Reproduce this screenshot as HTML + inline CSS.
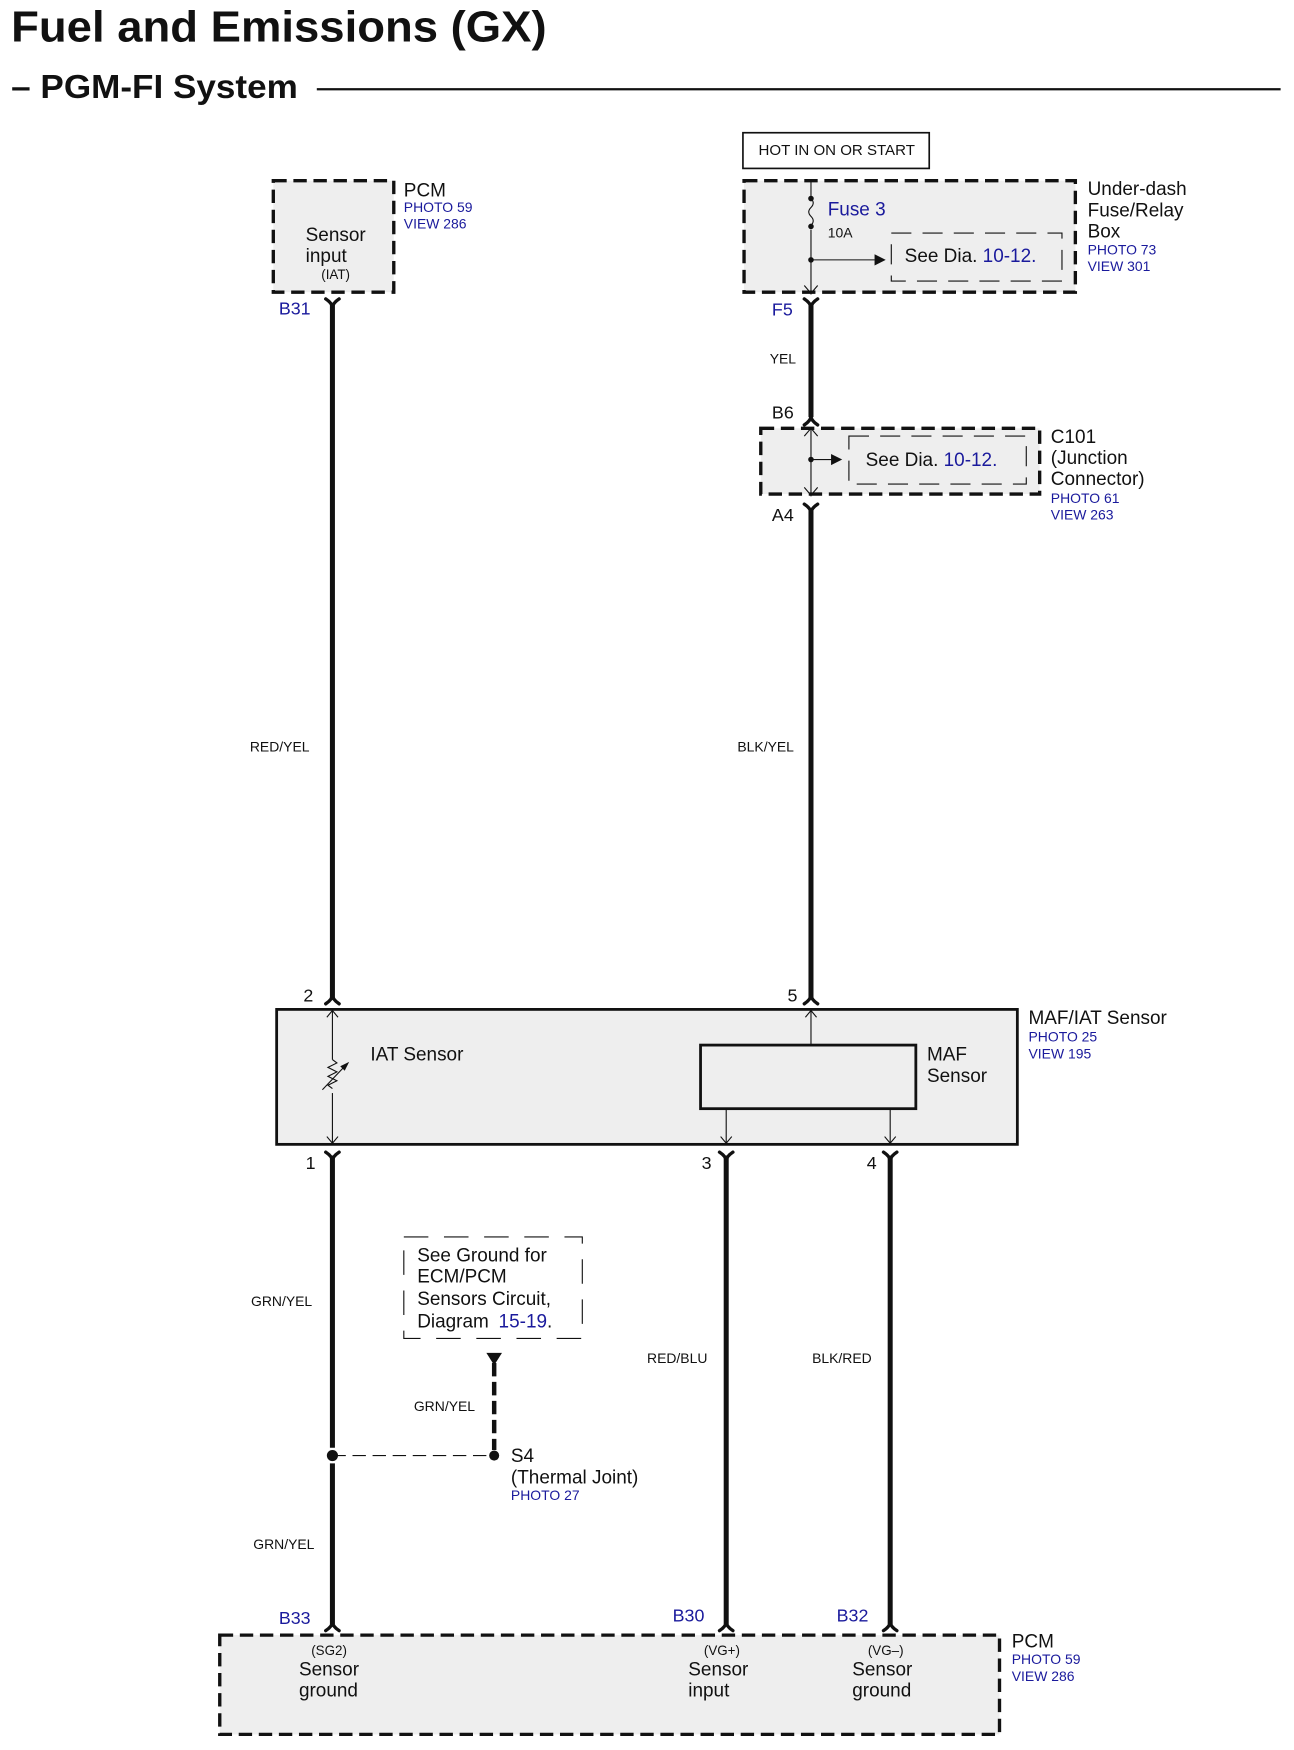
<!DOCTYPE html>
<html><head><meta charset="utf-8">
<style>
html,body{margin:0;padding:0;background:#fff;}
svg{display:block;}
text{font-family:"Liberation Sans",Arial,sans-serif;fill:#111;}
.b{fill:#1a1a9c;}
</style></head>
<body>
<svg width="1294" height="1750" viewBox="0 0 1160 1569" preserveAspectRatio="none" xmlns="http://www.w3.org/2000/svg">
<rect width="1160" height="1569" fill="#fff"/>
<text x="10" y="37" font-size="39" font-weight="bold" textLength="480" lengthAdjust="spacingAndGlyphs">Fuel and Emissions (GX)</text>
<text x="10" y="88" font-size="30" font-weight="bold" textLength="257" lengthAdjust="spacingAndGlyphs">– PGM-FI System</text>
<line x1="284" y1="80" x2="1148" y2="80" stroke="#111" stroke-width="2"/>

<!-- PCM top box -->
<rect x="245" y="162" width="108" height="100" fill="#eee" stroke="#111" stroke-width="3" stroke-dasharray="12,6"/>
<text x="274" y="216" font-size="17">Sensor</text>
<text x="274" y="235" font-size="17">input</text>
<text x="288" y="250" font-size="12">(IAT)</text>
<text x="362" y="176" font-size="17">PCM</text>
<text x="362" y="190" font-size="12.5" class="b">PHOTO 59</text>
<text x="362" y="205" font-size="12.5" class="b">VIEW 286</text>
<text x="250" y="282" font-size="16" class="b">B31</text>

<!-- HOT box -->
<rect x="666" y="119" width="167" height="32" fill="#fff" stroke="#111" stroke-width="1.5"/>
<text x="680" y="139" font-size="13.5">HOT IN ON OR START</text>

<!-- Fuse box -->
<rect x="667" y="162" width="297" height="100" fill="#eee" stroke="#111" stroke-width="3" stroke-dasharray="12,6"/>
<line x1="727" y1="162" x2="727" y2="264" stroke="#111" stroke-width="1"/>
<rect x="722" y="176" width="10" height="30" fill="#eee"/>
<path d="M727,178 q4,4 0,8 q-4,4 0,8 q4,4 0,8" fill="none" stroke="#111" stroke-width="1"/>
<circle cx="727" cy="178" r="2.5" fill="#111"/><circle cx="727" cy="203" r="2.5" fill="#111"/><circle cx="727" cy="233" r="2.5" fill="#111"/>
<line x1="727" y1="233" x2="784" y2="233" stroke="#111" stroke-width="1"/>
<path d="M784,228 L794,233 L784,238 Z" fill="#111"/>
<path d="M721,256 L727,263 L733,256" fill="none" stroke="#111" stroke-width="1"/>
<rect x="799" y="209" width="153" height="43" fill="#eee" stroke="#111" stroke-width="1" stroke-dasharray="18,10"/>
<text x="811" y="235" font-size="17">See Dia. <tspan class="b">10-12.</tspan></text>
<text x="742" y="193" font-size="17" class="b">Fuse 3</text>
<text x="742" y="213" font-size="12.5">10A</text>
<text x="975" y="175" font-size="17">Under-dash</text>
<text x="975" y="194" font-size="17">Fuse/Relay</text>
<text x="975" y="213" font-size="17">Box</text>
<text x="975" y="228" font-size="12.5" class="b">PHOTO 73</text>
<text x="975" y="243" font-size="12.5" class="b">VIEW 301</text>
<text x="692" y="283" font-size="16" class="b">F5</text>
<text x="690" y="326" font-size="12.5">YEL</text>

<!-- C101 -->
<text x="692" y="375" font-size="16">B6</text>
<rect x="682" y="384" width="250" height="59" fill="#eee" stroke="#111" stroke-width="3" stroke-dasharray="12,6"/>
<line x1="727" y1="384" x2="727" y2="445" stroke="#111" stroke-width="1"/>
<path d="M721,391 L727,384 L733,391 M721,437 L727,444 L733,437" fill="none" stroke="#111" stroke-width="1"/>
<circle cx="727" cy="412" r="2.5" fill="#111"/>
<line x1="727" y1="412" x2="746" y2="412" stroke="#111" stroke-width="1"/>
<path d="M745,407 L755,412 L745,417 Z" fill="#111"/>
<rect x="761" y="391" width="159" height="43" fill="#eee" stroke="#111" stroke-width="1" stroke-dasharray="18,10"/>
<text x="776" y="418" font-size="17">See Dia. <tspan class="b">10-12.</tspan></text>
<text x="942" y="397" font-size="17">C101</text>
<text x="942" y="416" font-size="17">(Junction</text>
<text x="942" y="435" font-size="17">Connector)</text>
<text x="942" y="451" font-size="12.5" class="b">PHOTO 61</text>
<text x="942" y="466" font-size="12.5" class="b">VIEW 263</text>
<text x="692" y="467" font-size="16">A4</text>

<!-- thick wires -->
<g stroke="#111" stroke-width="4.5" fill="none">
<line x1="298" y1="272" x2="298" y2="895"/>
<line x1="727" y1="272" x2="727" y2="374"/>
<line x1="727" y1="456" x2="727" y2="895"/>
<line x1="298" y1="1036" x2="298" y2="1298"/>
<line x1="298" y1="1312" x2="298" y2="1456"/>
<line x1="651" y1="1036" x2="651" y2="1456"/>
<line x1="798" y1="1036" x2="798" y2="1456"/>
</g>
<g stroke="#111" stroke-width="3" fill="none" stroke-linecap="round">
<path d="M292,268 Q298,272 298,276 Q298,272 304,268"/>
<path d="M721,268 Q727,272 727,276 Q727,272 733,268"/>
<path d="M721,452 Q727,456 727,460 Q727,456 733,452"/>
<path d="M292,1033 Q298,1037 298,1041 Q298,1037 304,1033"/>
<path d="M645,1033 Q651,1037 651,1041 Q651,1037 657,1033"/>
<path d="M792,1033 Q798,1037 798,1041 Q798,1037 804,1033"/>
<path d="M292,900 Q298,896 298,892 Q298,896 304,900"/>
<path d="M721,900 Q727,896 727,892 Q727,896 733,900"/>
<path d="M721,381 Q727,377 727,373 Q727,377 733,381"/>
<path d="M292,1462 Q298,1458 298,1454 Q298,1458 304,1462"/>
<path d="M645,1462 Q651,1458 651,1454 Q651,1458 657,1462"/>
<path d="M792,1462 Q798,1458 798,1454 Q798,1458 804,1462"/>
</g>
<text x="224" y="674" font-size="12.5">RED/YEL</text>
<text x="661" y="674" font-size="12.5">BLK/YEL</text>

<!-- MAF/IAT -->
<text x="272" y="898" font-size="16">2</text>
<text x="706" y="898" font-size="16">5</text>
<rect x="248" y="905" width="664" height="121" fill="#eee" stroke="#111" stroke-width="2.5"/>
<line x1="298" y1="906" x2="298" y2="1025" stroke="#111" stroke-width="1"/>
<path d="M293,912 L298,906 L303,912 M293,1019 L298,1025 L303,1019" fill="none" stroke="#111" stroke-width="1"/>
<rect x="292" y="950" width="12" height="30" fill="#eee"/>
<path d="M298,950 l4,3 l-8,4 l8,4 l-8,4 l8,4 l-8,4 l4,3" fill="none" stroke="#111" stroke-width="1"/>
<line x1="289" y1="977" x2="310" y2="955" stroke="#111" stroke-width="1"/>
<path d="M313,952 L305,956 L309,960 Z" fill="#111"/>
<text x="332" y="951" font-size="17">IAT Sensor</text>
<rect x="628" y="937" width="193" height="57" fill="#eee" stroke="#111" stroke-width="2.5"/>
<line x1="727" y1="906" x2="727" y2="937" stroke="#111" stroke-width="1"/>
<path d="M722,912 L727,906 L732,912" fill="none" stroke="#111" stroke-width="1"/>
<line x1="651" y1="994" x2="651" y2="1025" stroke="#111" stroke-width="1"/>
<line x1="798" y1="994" x2="798" y2="1025" stroke="#111" stroke-width="1"/>
<path d="M646,1019 L651,1025 L656,1019 M793,1019 L798,1025 L803,1019" fill="none" stroke="#111" stroke-width="1"/>
<text x="831" y="951" font-size="17">MAF</text>
<text x="831" y="970" font-size="17">Sensor</text>
<text x="922" y="918" font-size="17">MAF/IAT Sensor</text>
<text x="922" y="934" font-size="12.5" class="b">PHOTO 25</text>
<text x="922" y="949" font-size="12.5" class="b">VIEW 195</text>
<text x="274" y="1048" font-size="16">1</text>
<text x="629" y="1048" font-size="16">3</text>
<text x="777" y="1048" font-size="16">4</text>

<text x="225" y="1171" font-size="12.5">GRN/YEL</text>
<text x="580" y="1222" font-size="12.5">RED/BLU</text>
<text x="728" y="1222" font-size="12.5">BLK/RED</text>

<!-- ground ref box -->
<rect x="362" y="1109" width="160" height="91" fill="#fff" stroke="#111" stroke-width="1" stroke-dasharray="22,14"/>
<text x="374" y="1131" font-size="17">See Ground for</text>
<text x="374" y="1150" font-size="17">ECM/PCM</text>
<text x="374" y="1170" font-size="17">Sensors Circuit,</text>
<text x="374" y="1190" font-size="17">Diagram <tspan class="b" dx="4">15-19</tspan>.</text>
<path d="M436,1213 L450,1213 L443,1224 Z" fill="#111"/>
<line x1="443" y1="1222" x2="443" y2="1300" stroke="#111" stroke-width="4" stroke-dasharray="12,5"/>
<text x="371" y="1265" font-size="12.5">GRN/YEL</text>
<line x1="298" y1="1305" x2="443" y2="1305" stroke="#111" stroke-width="1" stroke-dasharray="12,6"/>
<circle cx="298" cy="1305" r="5" fill="#111"/>
<circle cx="443" cy="1305" r="4.5" fill="#111"/>
<text x="458" y="1311" font-size="17">S4</text>
<text x="458" y="1330" font-size="17">(Thermal Joint)</text>
<text x="458" y="1345" font-size="12.5" class="b">PHOTO 27</text>
<text x="227" y="1389" font-size="12.5">GRN/YEL</text>

<!-- bottom PCM -->
<text x="250" y="1456" font-size="16" class="b">B33</text>
<text x="603" y="1454" font-size="16" class="b">B30</text>
<text x="750" y="1454" font-size="16" class="b">B32</text>
<rect x="197" y="1466" width="699" height="89" fill="#eee" stroke="#111" stroke-width="3" stroke-dasharray="12,6"/>
<text x="279" y="1484" font-size="12">(SG2)</text>
<text x="268" y="1502" font-size="17">Sensor</text>
<text x="268" y="1521" font-size="17">ground</text>
<text x="631" y="1484" font-size="12">(VG+)</text>
<text x="617" y="1502" font-size="17">Sensor</text>
<text x="617" y="1521" font-size="17">input</text>
<text x="778" y="1484" font-size="12">(VG–)</text>
<text x="764" y="1502" font-size="17">Sensor</text>
<text x="764" y="1521" font-size="17">ground</text>
<text x="907" y="1477" font-size="17">PCM</text>
<text x="907" y="1492" font-size="12.5" class="b">PHOTO 59</text>
<text x="907" y="1507" font-size="12.5" class="b">VIEW 286</text>
</svg>
</body></html>
